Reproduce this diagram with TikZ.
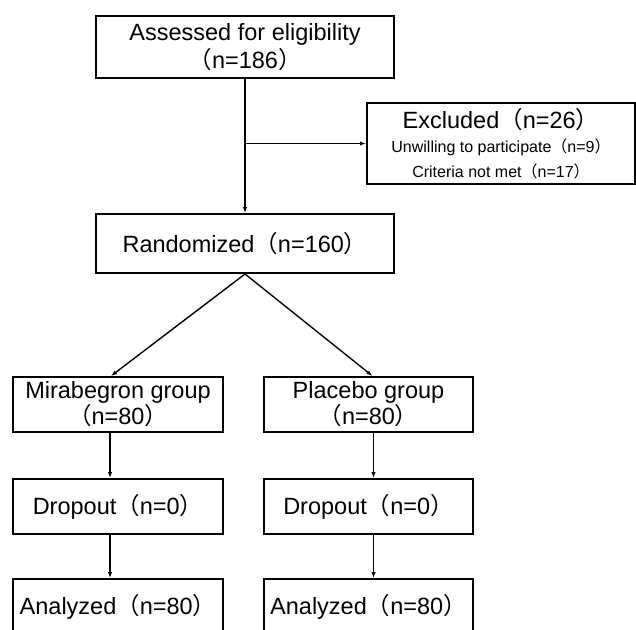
\documentclass[tikz,border=0pt]{standalone}
\usepackage{fontspec}
\usepackage{xcolor}
\usepackage{tikz}
\usetikzlibrary{arrows.meta}
\setmainfont{Liberation Sans}
\newfontfamily\cjkfont{Noto Sans CJK SC}
\newcommand{\popen}{{\cjkfont （}}
\newcommand{\pclose}{{\cjkfont ）}}
\colorlet{strokeColor}{black}
\colorlet{textColor}{black}

\begin{document}
\begin{tikzpicture}[
    x=1pt, y=-1pt,
    box/.style={draw=strokeColor, line width=2pt, text=textColor, align=center,
      inner sep=0pt, anchor=north west, font=\fontsize{23.5}{28}\selectfont},
    link/.style={draw=strokeColor, line width=1.4pt, -{Latex[length=6pt, width=4.5pt]}},
  ]
    \useasboundingbox (0, 0) rectangle (636, 629);
    \clip (0, 0) rectangle (636, 629);

    \node[box, minimum width=298pt, minimum height=62pt] (assessed) at (95, 15) {%
      Assessed for eligibility\\\popen n=186\pclose
    };
    \node[box, minimum width=268pt, minimum height=81pt] (excluded) at (366, 102) {%
      Excluded\popen n=26\pclose\\[-4pt]
      {\fontsize{16}{19}\selectfont Unwilling to participate\popen n=9\pclose}\\[-3pt]
      {\fontsize{16}{19}\selectfont Criteria not met\popen n=17\pclose}
    };
    \node[box, minimum width=298pt, minimum height=59pt] (randomized) at (95, 213) {%
      Randomized\popen n=160\pclose
    };

    % two arms
    \node[box, minimum width=210pt, minimum height=55pt] (mirabegron) at (12, 376) {%
      Mirabegron group\\[-2pt]\popen n=80\pclose
    };
    \node[box, minimum width=209pt, minimum height=55pt] (placebo) at (263, 376) {%
      Placebo group\\[-2pt]\popen n=80\pclose
    };
    \node[box, minimum width=210pt, minimum height=55pt] (dropoutA) at (12, 478) {Dropout\popen n=0\pclose};
    \node[box, minimum width=209pt, minimum height=55pt] (dropoutB) at (263, 478) {Dropout\popen n=0\pclose};
    \node[box, minimum width=210pt, minimum height=55pt] (analyzedA) at (12, 578) {Analyzed\popen n=80\pclose};
    \node[box, minimum width=209pt, minimum height=55pt] (analyzedB) at (263, 578) {Analyzed\popen n=80\pclose};

    \coordinate (split) at (assessed.south |- excluded.west);
    \draw[link] (assessed.south) -- (randomized.north);
    \draw[link] (split) -- (excluded.west);
    \draw[link] (randomized.south) -- ([xshift=-7pt]mirabegron.north);
    \draw[link] (randomized.south) -- ([xshift=4pt]placebo.north);
    \draw[link] ([xshift=-8pt]mirabegron.south) -- ([xshift=-8pt]dropoutA.north);
    \draw[link] ([xshift=5pt]placebo.south) -- ([xshift=5pt]dropoutB.north);
    \draw[link] ([xshift=-8pt]dropoutA.south) -- ([xshift=-8pt]analyzedA.north);
    \draw[link] ([xshift=5pt]dropoutB.south) -- ([xshift=5pt]analyzedB.north);
  \end{tikzpicture}
\end{document}
